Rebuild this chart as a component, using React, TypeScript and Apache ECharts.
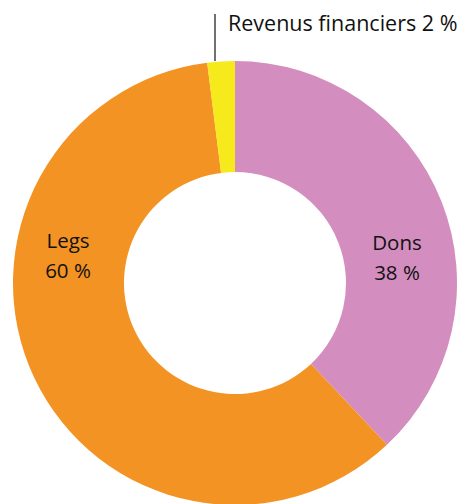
import React, { useEffect, useRef } from "react";
import * as echarts from "echarts";

const categories = ["Dons", "Legs", "Revenus financiers"];
const values = [38, 60, 2];
const colors = ["#D48DBF", "#F39324", "#F6E91C"];

export default function App() {
  const ref = useRef<HTMLDivElement>(null);
  useEffect(() => {
    document.body.style.margin = "0";
    const chart = echarts.init(ref.current!, null, { renderer: "svg" });
    const font = "'Open Sans', 'Noto Sans', sans-serif";
    chart.setOption({
      animation: false,
      backgroundColor: "#ffffff",
      series: [
        {
          type: "pie",
          center: [235, 283],
          radius: [111, 222],
          startAngle: 90,
          clockwise: true,
          avoidLabelOverlap: false,
          silent: true,
          data: categories.map((name, i) => ({
            name,
            value: values[i],
            itemStyle: { color: colors[i] },
            label:
              i < 2
                ? {
                    show: true,
                    position: "inside",
                    formatter: "{b}\n{c} %",
                    fontSize: 20.5,
                    lineHeight: 30,
                    color: "#111111",
                    fontFamily: font,
                  }
                : {
                    show: true,
                    position: "outside",
                    formatter: "{b} {c} %",
                    fontSize: 21.5,
                    color: "#111111",
                    fontFamily: font,
                  },
            labelLine:
              i < 2
                ? { show: false }
                : { show: true, lineStyle: { color: "#111111", width: 1.2 } },
          })),
          labelLayout: (params: any) => {
            if (params.dataIndex === 0) {
              return { x: 397, y: 257, align: "center", verticalAlign: "middle" };
            }
            if (params.dataIndex === 1) {
              return { x: 68, y: 255, align: "center", verticalAlign: "middle" };
            }
            return {
              x: 228,
              y: 22,
              align: "left",
              verticalAlign: "middle",
              labelLinePoints: [
                [215, 61],
                [215, 14],
                [215, 14],
              ],
            };
          },
        },
      ],
    });
    return () => chart.dispose();
  }, []);
  return <div ref={ref} style={{ width: 462, height: 504 }} />;
}
